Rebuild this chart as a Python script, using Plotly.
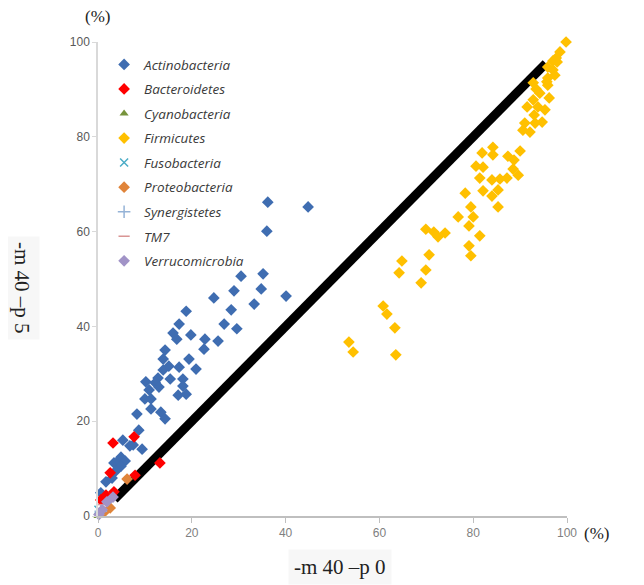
import plotly.graph_objects as go

# ---- data (percent) ----
actino_x = [44.8, 36.2, 36.0, 30.5, 35.2, 34.8, 29.0, 24.7, 40.1, 33.3, 28.4, 18.8, 26.9, 17.3, 29.6,
            16.0, 19.8, 16.8, 22.8, 25.6, 22.6, 14.3, 13.9, 19.4, 13.9, 17.3, 15.1, 20.9, 12.8, 15.4,
            18.1, 10.2, 12.2, 10.9, 13.0, 18.1, 17.1, 18.8, 10.0, 11.3, 11.3, 13.4, 8.3, 14.3, 8.7,
            5.3, 7.5, 6.8, 9.4, 4.9, 4.3, 3.4, 5.8, 4.9, 3.8, 1.7, 3.0, 0.6]
actino_y = [65.2, 66.2, 60.1, 50.6, 51.1, 47.9, 47.5, 46.0, 46.4, 44.7, 43.5, 43.2, 40.5, 40.5, 39.5,
            38.6, 38.2, 37.3, 37.3, 36.9, 35.2, 35.0, 33.1, 33.1, 30.8, 31.4, 31.6, 31.0, 29.1, 28.9,
            28.9, 28.3, 28.1, 26.6, 27.2, 27.4, 25.5, 25.7, 24.7, 24.7, 22.6, 21.9, 21.5, 20.5, 18.1,
            16.0, 15.0, 14.8, 14.1, 12.4, 11.6, 11.2, 11.6, 10.5, 9.5, 7.2, 8.0, 4.9]

bactero_x = [3.2, 7.7, 13.2, 2.6, 7.9, 3.4, 1.7, 0.6]
bactero_y = [15.4, 16.7, 11.2, 9.1, 8.6, 5.1, 4.4, 3.4]

cyano_x = [0.0]
cyano_y = [0.0]

firmi_x = [99.8, 98.5, 97.7, 97.0, 97.9, 95.9, 97.0, 97.4, 95.9, 95.7, 92.8, 95.9, 93.4, 94.2, 96.2,
           92.8, 91.5, 93.8, 95.3, 93.0, 91.0, 93.2, 94.7, 90.6, 92.1,
           84.2, 84.2, 90.0, 87.4, 88.7, 81.9, 80.6, 82.1, 88.5, 89.6, 81.4, 84.0, 85.7, 87.2, 85.3,
           82.1, 78.3, 84.0, 85.3, 79.5, 76.8, 80.0, 79.1,
           69.9, 71.6, 74.0, 72.5, 81.4, 79.1, 79.5, 70.6, 64.8, 64.2, 69.9, 68.9, 60.8, 61.6, 63.3,
           53.5, 54.4, 63.5]
firmi_y = [100.0, 97.9, 96.6, 96.0, 95.8, 94.7, 94.1, 93.0, 92.4, 91.6, 91.4, 90.9, 90.1, 89.2, 88.2,
           87.8, 86.3, 86.3, 85.7, 84.6, 82.9, 82.9, 83.1, 81.4, 81.0,
           77.8, 76.2, 77.0, 75.9, 75.1, 76.6, 73.8, 73.6, 73.2, 71.9, 71.3, 70.9, 71.1, 71.3, 68.8,
           68.6, 68.1, 67.5, 65.2, 65.2, 63.1, 63.1, 61.2,
           60.5, 59.9, 59.7, 58.9, 59.1, 57.0, 54.9, 55.1, 53.8, 51.3, 51.9, 49.2, 44.3, 42.6, 39.7,
           36.7, 34.6, 34.0]

fuso_x = [0.1]
fuso_y = [1.3]

proteo_x = [6.2, 2.6, 1.3]
proteo_y = [7.8, 1.7, 0.8]

synerg_x = [0.6]
synerg_y = [1.0]

tm7_x = [1.2]
tm7_y = [2.4]

verru_x = [3.2, 1.9, 0.9, 0.2]
verru_y = [4.0, 3.0, 1.3, 0.3]

line_x = [3.5, 95.5]
line_y = [3.5, 95.5]

x_ticks = [0, 20, 40, 60, 80, 100]
y_ticks = [0, 20, 40, 60, 80, 100]

series = [
    ("Actinobacteria", actino_x, actino_y, "diamond", "#3F6DB1", 9),
    ("Bacteroidetes", bactero_x, bactero_y, "diamond", "#FF0000", 9),
    ("Cyanobacteria", cyano_x, cyano_y, "triangle-up", "#77933C", 8),
    ("Firmicutes", firmi_x, firmi_y, "diamond", "#FFC000", 9),
    ("Fusobacteria", fuso_x, fuso_y, "x-thin-open", "#4BACC6", 8),
    ("Proteobacteria", proteo_x, proteo_y, "diamond", "#E0843A", 9),
    ("Synergistetes", synerg_x, synerg_y, "cross-thin-open", "#95B3D7", 9),
    ("TM7", tm7_x, tm7_y, "line-ew-open", "#D99594", 8),
    ("Verrucomicrobia", verru_x, verru_y, "diamond", "#A193C7", 9),
]

# page has an 8px body margin; figure coords = page coords - 8
L, R, T, B = 90, 85, 34, 77
W, H = 644, 585

fig = go.Figure()

fig.add_trace(go.Scatter(x=line_x, y=line_y, mode="lines",
                         line=dict(color="black", width=9),
                         showlegend=False, hoverinfo="skip"))

for i, (name, xs, ys, sym, col, sz) in enumerate(series):
    fig.add_trace(go.Scatter(
        x=xs, y=ys, mode="markers", name=name, legendgroup=name,
        marker=dict(symbol=sym, color=col, size=sz,
                    line=dict(color=col, width=1.5 if "open" in sym else 0)),
        cliponaxis=False,
    ))

fig.update_layout(
    width=W, height=H,
    margin=dict(l=L, r=R, t=T, b=B),
    paper_bgcolor="white", plot_bgcolor="white",
    showlegend=True,
    legend=dict(x=0.013, y=0.985, xanchor="left", yanchor="top",
                font=dict(family="Open Sans", size=13.5, color="#3A3A3A", style="italic"),
                bgcolor="rgba(0,0,0,0)", tracegroupgap=4, itemwidth=30),
    xaxis=dict(range=[0, 100], tickvals=x_ticks, showgrid=False, zeroline=False,
               showline=True, linecolor="#BFBFBF", linewidth=1.5,
               ticks="outside", ticklen=5, tickcolor="#BFBFBF",
               tickfont=dict(family="Liberation Sans", size=12, color="#7F7F7F")),
    yaxis=dict(range=[0, 100], tickvals=y_ticks, showgrid=False, zeroline=False,
               showline=True, linecolor="#D9D9D9", linewidth=1.5,
               ticks="outside", ticklen=4, tickcolor="#D9D9D9",
               tickfont=dict(family="Liberation Sans", size=12, color="#595959")),
)

# annotations placed by page pixel position (converted to paper coords)
pw, ph = W - L - R, H - T - B
def ann(text, px, py, size, angle=0, bg=None):
    fx, fy = px - 8, py - 8
    d = dict(text=text, x=(fx - L) / pw, y=(H - B - fy) / ph, xref="paper", yref="paper",
             xanchor="center", yanchor="middle", showarrow=False, textangle=angle,
             font=dict(family="Liberation Serif", size=size, color="#222222"))
    if bg:
        d.update(bgcolor=bg, borderpad=5)
    return d

fig.update_layout(annotations=[
    ann("(%)", 97, 16, 17),
    ann("(%)", 596, 533, 17),
    ann("-m 40 \u2013p 0", 340, 567, 21, bg="#F7F7F7"),
    ann("-m 40 \u2013p 5", 22, 288, 21, angle=90, bg="#F7F7F7"),
])

fig.write_html("out.html")
